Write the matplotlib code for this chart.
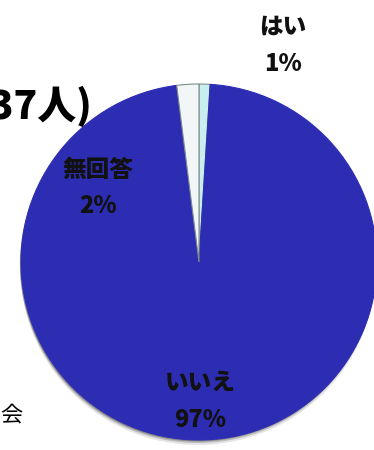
import matplotlib.pyplot as plt
from matplotlib.patches import Circle

plt.rcParams['font.family'] = ['Noto Sans CJK JP', 'DejaVu Sans']

labels = ["はい", "いいえ", "無回答"]
values = [1, 97, 2]
pct_labels = ["1%", "97%", "2%"]
colors = ["#c9eef0", "#2d2db4", "#f2f6f6"]

W, H = 374, 450
fig = plt.figure(figsize=(W / 100, H / 100), dpi=100)
ax = fig.add_axes([0, 0, 1, 1])

cx, cy, r = 199, H - 262, 178

# soft shadow under the pie
for off, a in [(5, 0.10), (3, 0.18), (1.5, 0.25)]:
    ax.add_patch(Circle((cx - 1, cy - off), r, color="black", alpha=a, lw=0, zorder=1))

wedges, _ = ax.pie(values, colors=colors, startangle=90, counterclock=False,
                   center=(cx, cy), radius=r, frame=True,
                   wedgeprops=dict(linewidth=0.8, edgecolor="#7d8c8c"))
wedges[1].set_edgecolor(colors[1])
for w in wedges:
    w.set_zorder(2)
ax.set_xlim(0, W)
ax.set_ylim(0, H)
ax.set_aspect("auto")
ax.axis("off")

# wedge labels (pixel positions from the top-left)
label_pos = [(283, 26, 64), (200, 382, 420), (98, 170, 206)]
for name, pct, (x, y1, y2) in zip(labels, pct_labels, label_pos):
    ax.text(x, H - y1, name, ha="center", va="center", fontsize=17,
            fontweight="heavy", color="#111111", zorder=5)
    ax.text(x, H - y2, pct, ha="center", va="center", fontsize=17,
            fontweight="heavy", color="#111111", zorder=5)

# cropped texts from the surrounding slide
ax.text(93, H - 106, "(n=37人)", ha="right", va="center", fontsize=28,
        fontweight="heavy", zorder=5)
ax.text(22, H - 415, "会", ha="right", va="center", fontsize=16, zorder=5)

fig.savefig("out.png", dpi=100)
